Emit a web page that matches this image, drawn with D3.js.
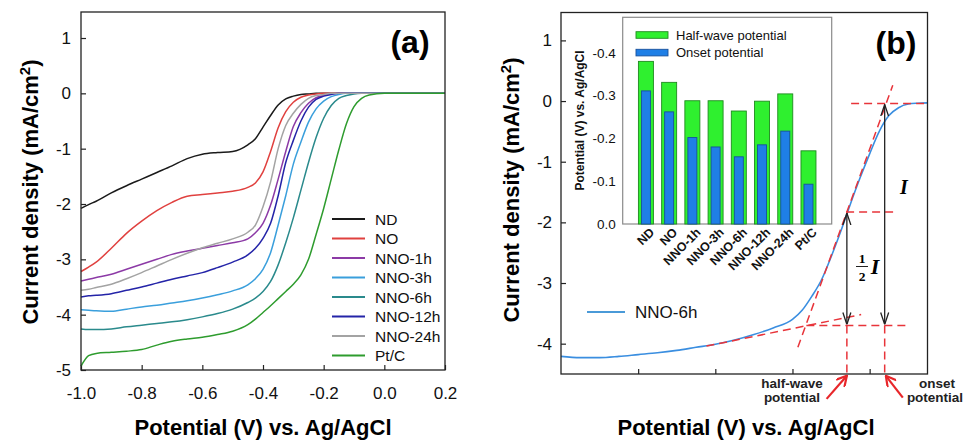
<!DOCTYPE html>
<html>
<head>
<meta charset="utf-8">
<script src="https://cdnjs.cloudflare.com/ajax/libs/d3/7.8.5/d3.min.js"></script>
<style>
  body { margin: 0; background: #fff; }
  svg { font-family: "Liberation Sans", Arial, sans-serif; }
</style>
</head>
<body>
<div class="chart"></div>
<script>
var svgWidth = 969;
var svgHeight = 441;

// Panel (a): potential grid (V vs. Ag/AgCl) and current density of each sample (mA/cm2)
var potential = [-1.0, -0.975, -0.95, -0.9, -0.85, -0.8, -0.75, -0.7, -0.65, -0.6, -0.55, -0.5,
  -0.45, -0.425, -0.4, -0.375, -0.35, -0.325, -0.3, -0.275, -0.25, -0.225, -0.2, -0.175,
  -0.15, -0.125, -0.1, -0.075, -0.05, 0.0, 0.1, 0.2];
var nd = [-2.08, -2.01, -1.95, -1.80, -1.67, -1.55, -1.43, -1.31, -1.18, -1.10, -1.07, -1.05,
  -0.93, -0.82, -0.61, -0.40, -0.21, -0.10, -0.05, -0.02, -0.01, 0, 0, 0,
  0, 0, 0, 0, 0, 0, 0, 0];
var no = [-3.22, -3.14, -3.05, -2.80, -2.53, -2.31, -2.12, -1.97, -1.86, -1.83, -1.80, -1.77,
  -1.70, -1.62, -1.42, -1.05, -0.62, -0.33, -0.16, -0.07, -0.03, -0.01, 0, 0,
  0, 0, 0, 0, 0, 0, 0, 0];
var nno1h = [-3.39, -3.36, -3.33, -3.27, -3.18, -3.09, -3.00, -2.91, -2.85, -2.80, -2.75, -2.70,
  -2.63, -2.52, -2.35, -2.02, -1.55, -1.05, -0.60, -0.35, -0.18, -0.08, -0.04, -0.01,
  0, 0, 0, 0, 0, 0, 0, 0];
var nno3h = [-3.91, -3.92, -3.93, -3.94, -3.90, -3.86, -3.83, -3.79, -3.75, -3.70, -3.64, -3.57,
  -3.46, -3.35, -3.18, -2.88, -2.38, -1.85, -1.28, -0.88, -0.52, -0.28, -0.14, -0.06,
  -0.02, 0, 0, 0, 0, 0, 0, 0];
var nno6h = [-4.26, -4.27, -4.27, -4.26, -4.22, -4.19, -4.16, -4.13, -4.09, -4.04, -3.98, -3.90,
  -3.78, -3.70, -3.58, -3.40, -3.10, -2.70, -2.25, -1.75, -1.25, -0.80, -0.45, -0.22,
  -0.09, -0.04, -0.01, 0, 0, 0, 0, 0];
var nno12h = [-3.68, -3.66, -3.65, -3.62, -3.56, -3.50, -3.43, -3.36, -3.30, -3.24, -3.15, -3.05,
  -2.92, -2.80, -2.62, -2.35, -1.85, -1.25, -0.85, -0.50, -0.25, -0.11, -0.05, -0.02,
  0, 0, 0, 0, 0, 0, 0, 0];
var nno24h = [-3.56, -3.54, -3.51, -3.45, -3.35, -3.24, -3.12, -3.00, -2.89, -2.79, -2.71, -2.63,
  -2.51, -2.38, -2.05, -1.60, -1.00, -0.58, -0.36, -0.20, -0.09, -0.04, -0.02, 0,
  0, 0, 0, 0, 0, 0, 0, 0];
var ptc = [-4.93, -4.74, -4.70, -4.68, -4.66, -4.63, -4.55, -4.48, -4.44, -4.41, -4.36, -4.30,
  -4.18, -4.08, -3.96, -3.84, -3.71, -3.58, -3.45, -3.28, -3.00, -2.55, -2.08, -1.55,
  -1.02, -0.55, -0.24, -0.09, -0.03, 0, 0, 0];

var sampleNames = ["ND", "NO", "NNO-1h", "NNO-3h", "NNO-6h", "NNO-12h", "NNO-24h", "Pt/C"];
var sampleCurves = [nd, no, nno1h, nno3h, nno6h, nno12h, nno24h, ptc];
var sampleColors = ["#1a1a1a", "#e0413f", "#8c3aa6", "#3a9fdc", "#2a8a8c", "#2424a8", "#a3a3a3", "#2e9c2e"];

var xTicksA = [-1.0, -0.8, -0.6, -0.4, -0.2, 0.0, 0.2];
var yTicksA = [-5, -4, -3, -2, -1, 0, 1];

// Panel (b): NNO-6h curve used to explain onset / half-wave potentials
var potentialB = [-1.0, -0.95, -0.9, -0.85, -0.8, -0.75, -0.7, -0.65, -0.6, -0.55, -0.5, -0.45,
  -0.4, -0.375, -0.35, -0.325, -0.3, -0.275, -0.25, -0.225, -0.2, -0.175, -0.15, -0.125,
  -0.1, -0.075, -0.05];
var nno6hB = [-4.21, -4.23, -4.23, -4.21, -4.18, -4.15, -4.11, -4.06, -4.01, -3.94, -3.85, -3.74,
  -3.60, -3.45, -3.22, -2.95, -2.57, -2.15, -1.70, -1.27, -0.87, -0.50, -0.24, -0.11,
  -0.05, -0.035, -0.03];
var xTicksB = [-0.8, -0.6, -0.4, -0.2];
var yTicksB = [-4, -3, -2, -1, 0, 1];

// onset / half-wave construction (data units of panel b)
var limitCurrent = -3.70;
var plateauCurrent = -0.04;
var halfCurrent = -1.83;
var halfWaveE = -0.259;
var onsetE = -0.161;
var tangentSteep = [[-0.386, -4.06], [-0.140, 0.26]];
var tangentBase = [[-0.623, -4.04], [-0.222, -3.52]];

// Inset bars
var insetCats = ["ND", "NO", "NNO-1h", "NNO-3h", "NNO-6h", "NNO-12h", "NNO-24h", "Pt/C"];
var halfWave = [-0.380, -0.331, -0.288, -0.288, -0.264, -0.287, -0.304, -0.171];
var onset = [-0.311, -0.262, -0.202, -0.180, -0.157, -0.185, -0.217, -0.093];
var insetTicks = [0, -0.1, -0.2, -0.3, -0.4];

var svg = d3.select(".chart")
  .append("svg")
  .attr("width", svgWidth)
  .attr("height", svgHeight);

// arrow heads
var defs = svg.append("defs");
defs.append("marker")
  .attr("id", "chevBlack")
  .attr("viewBox", "0 0 12 10")
  .attr("refX", 12).attr("refY", 5)
  .attr("markerWidth", 12).attr("markerHeight", 10)
  .attr("markerUnits", "userSpaceOnUse")
  .attr("orient", "auto-start-reverse")
  .append("path")
  .attr("d", "M0,1 L12,5 L0,9")
  .attr("fill", "none").attr("stroke", "#222").attr("stroke-width", 1.3);
defs.append("marker")
  .attr("id", "chevRed")
  .attr("viewBox", "0 0 12 12")
  .attr("refX", 11).attr("refY", 6)
  .attr("markerWidth", 12).attr("markerHeight", 12)
  .attr("markerUnits", "userSpaceOnUse")
  .attr("orient", "auto")
  .append("path")
  .attr("d", "M1,0.5 L11,6 L1,11.5")
  .attr("fill", "none").attr("stroke", "#e8262a").attr("stroke-width", 2.2);

function styleAxis(g, size) {
  g.attr("font-size", size)
    .attr("font-family", "'Liberation Sans', Arial, sans-serif")
    .attr("fill", "#111");
  g.select(".domain").remove();
  g.selectAll(".tick line").attr("stroke", "#222").attr("stroke-width", 1.2);
  g.selectAll(".tick text").attr("fill", "#111");
}

// ---------------- Panel (a) ----------------
var xA = d3.scaleLinear().domain([-1, 0.2]).range([81, 445]);
var yA = d3.scaleLinear().domain([-5, 1.47]).range([370, 12]);

var panelA = svg.append("g");

panelA.append("g")
  .attr("transform", "translate(0,370)")
  .call(d3.axisBottom(xA).tickValues(xTicksA).tickSizeInner(-5).tickSizeOuter(0)
    .tickPadding(17).tickFormat(d => d.toFixed(1)))
  .call(g => styleAxis(g, 17));

panelA.append("g")
  .attr("transform", "translate(81,0)")
  .call(d3.axisLeft(yA).tickValues(yTicksA).tickSizeInner(-5).tickSizeOuter(0)
    .tickPadding(10).tickFormat(d => String(d)))
  .call(g => styleAxis(g, 17));

var lineA = d3.line()
  .x((d, i) => xA(potential[i]))
  .y(d => yA(d))
  .curve(d3.curveMonotoneX);

panelA.selectAll(".curveA")
  .data(sampleCurves)
  .enter()
  .append("path")
  .attr("class", "curveA")
  .attr("d", lineA)
  .attr("fill", "none")
  .attr("stroke", (d, i) => sampleColors[i])
  .attr("stroke-width", 1.5);

panelA.append("rect")
  .attr("x", 81).attr("y", 12)
  .attr("width", 445 - 81).attr("height", 370 - 12)
  .attr("fill", "none").attr("stroke", "#222").attr("stroke-width", 1.3);

// legend
var legendA = panelA.append("g").attr("transform", "translate(332,219)");
legendA.selectAll("line")
  .data(sampleNames)
  .enter()
  .append("line")
  .attr("x1", 0).attr("x2", 33)
  .attr("y1", (d, i) => i * 19.5).attr("y2", (d, i) => i * 19.5)
  .attr("stroke", (d, i) => sampleColors[i])
  .attr("stroke-width", 1.8);
legendA.selectAll("text")
  .data(sampleNames)
  .enter()
  .append("text")
  .attr("x", 43)
  .attr("y", (d, i) => i * 19.5 + 5.5)
  .attr("font-size", 15.5)
  .attr("fill", "#111")
  .text(d => d);

panelA.append("text")
  .attr("x", 410).attr("y", 53)
  .attr("text-anchor", "middle")
  .attr("font-size", 32).attr("font-weight", "bold")
  .text("(a)");

// axis titles
panelA.append("text")
  .attr("x", 263).attr("y", 435)
  .attr("text-anchor", "middle")
  .attr("font-size", 22).attr("font-weight", "bold")
  .text("Potential (V) vs. Ag/AgCl");

var yTitleA = panelA.append("text")
  .attr("transform", "translate(38,192) rotate(-90)")
  .attr("text-anchor", "middle")
  .attr("font-size", 22).attr("font-weight", "bold");
yTitleA.append("tspan").text("Current density (mA/cm");
yTitleA.append("tspan").attr("font-size", 15).attr("dy", -8).text("2");
yTitleA.append("tspan").attr("dy", 8).text(")");

// ---------------- Panel (b) ----------------
var xB = d3.scaleLinear().domain([-1, -0.05]).range([561, 927.5]);
var yB = d3.scaleLinear().domain([-4.5, 1.46]).range([374, 12.5]);

var panelB = svg.append("g");

panelB.append("g")
  .attr("transform", "translate(0,374)")
  .call(d3.axisBottom(xB).tickValues(xTicksB).tickSizeInner(-5).tickSizeOuter(0).tickFormat(""))
  .call(g => styleAxis(g, 17));

panelB.append("g")
  .attr("transform", "translate(561,0)")
  .call(d3.axisLeft(yB).tickValues(yTicksB).tickSizeInner(-5).tickSizeOuter(0)
    .tickPadding(9).tickFormat(d => String(d)))
  .call(g => styleAxis(g, 17));

var lineB = d3.line()
  .x((d, i) => xB(potentialB[i]))
  .y(d => yB(d))
  .curve(d3.curveMonotoneX);

panelB.append("path")
  .datum(nno6hB)
  .attr("d", lineB)
  .attr("fill", "none")
  .attr("stroke", "#3a8ee0")
  .attr("stroke-width", 1.6);

// dashed construction lines
var dashed = [
  [[-0.248, plateauCurrent], [-0.051, plateauCurrent]],
  tangentSteep,
  [[halfWaveE - 0.002, halfCurrent], [-0.127, halfCurrent]],
  [[-0.364, limitCurrent], [-0.106, limitCurrent]],
  tangentBase,
  [[halfWaveE, limitCurrent], [halfWaveE, -4.5]],
  [[onsetE, limitCurrent], [onsetE, -4.5]]
];
panelB.selectAll(".guide")
  .data(dashed)
  .enter()
  .append("line")
  .attr("class", "guide")
  .attr("x1", d => xB(d[0][0])).attr("y1", d => yB(d[0][1]))
  .attr("x2", d => xB(d[1][0])).attr("y2", d => yB(d[1][1]))
  .attr("stroke", "#e8343a")
  .attr("stroke-width", 1.5)
  .attr("stroke-dasharray", "8,5");

// double arrows for I and 1/2 I
var spans = [[halfWaveE, halfCurrent], [onsetE, plateauCurrent]];
panelB.selectAll(".span")
  .data(spans)
  .enter()
  .append("line")
  .attr("class", "span")
  .attr("x1", d => xB(d[0])).attr("x2", d => xB(d[0]))
  .attr("y1", d => yB(d[1]) + 1).attr("y2", yB(limitCurrent) - 1)
  .attr("stroke", "#222")
  .attr("stroke-width", 1.3)
  .attr("marker-start", "url(#chevBlack)")
  .attr("marker-end", "url(#chevBlack)");

var serif = "'Liberation Serif', 'Times New Roman', serif";
panelB.append("text")
  .attr("x", 904).attr("y", 194)
  .attr("text-anchor", "middle")
  .attr("font-family", serif)
  .attr("font-style", "italic").attr("font-weight", "bold")
  .attr("font-size", 20)
  .text("I");
panelB.append("text")
  .attr("x", 862).attr("y", 263)
  .attr("text-anchor", "middle")
  .attr("font-family", serif)
  .attr("font-weight", "bold").attr("font-size", 13.5)
  .text("1");
panelB.append("line")
  .attr("x1", 856).attr("x2", 868).attr("y1", 266.5).attr("y2", 266.5)
  .attr("stroke", "#222").attr("stroke-width", 1);
panelB.append("text")
  .attr("x", 862).attr("y", 281)
  .attr("text-anchor", "middle")
  .attr("font-family", serif)
  .attr("font-weight", "bold").attr("font-size", 13.5)
  .text("2");
panelB.append("text")
  .attr("x", 875).attr("y", 274)
  .attr("text-anchor", "middle")
  .attr("font-family", serif)
  .attr("font-style", "italic").attr("font-weight", "bold")
  .attr("font-size", 22)
  .text("I");

panelB.append("rect")
  .attr("x", 561).attr("y", 12.5)
  .attr("width", 927.5 - 561).attr("height", 374 - 12.5)
  .attr("fill", "none").attr("stroke", "#222").attr("stroke-width", 1.3);

// red pointers below the axis
var pointers = [[[-0.3115, -4.91], [halfWaveE, -4.53]], [[-0.114, -4.89], [onsetE + 0.003, -4.53]]];
panelB.selectAll(".pointer")
  .data(pointers)
  .enter()
  .append("line")
  .attr("class", "pointer")
  .attr("x1", d => xB(d[0][0])).attr("y1", d => yB(d[0][1]))
  .attr("x2", d => xB(d[1][0])).attr("y2", d => yB(d[1][1]))
  .attr("stroke", "#e8262a")
  .attr("stroke-width", 2.2)
  .attr("marker-end", "url(#chevRed)");

var noteStyle = g => g.attr("text-anchor", "middle").attr("font-size", 13.5)
  .attr("font-weight", "bold").attr("fill", "#222");
panelB.append("text").attr("x", 792).attr("y", 388).call(noteStyle).text("half-wave");
panelB.append("text").attr("x", 792).attr("y", 402).call(noteStyle).text("potential");
panelB.append("text").attr("x", 937).attr("y", 388).call(noteStyle).text("onset");
panelB.append("text").attr("x", 935).attr("y", 402).call(noteStyle).text("potential");

// legend
panelB.append("line")
  .attr("x1", 587).attr("x2", 625).attr("y1", 312).attr("y2", 312)
  .attr("stroke", "#4a9ad8").attr("stroke-width", 1.8);
panelB.append("text")
  .attr("x", 635).attr("y", 318)
  .attr("font-size", 17).attr("fill", "#111")
  .text("NNO-6h");

panelB.append("text")
  .attr("x", 896).attr("y", 54)
  .attr("text-anchor", "middle")
  .attr("font-size", 32).attr("font-weight", "bold")
  .text("(b)");

panelB.append("text")
  .attr("x", 746).attr("y", 435)
  .attr("text-anchor", "middle")
  .attr("font-size", 22).attr("font-weight", "bold")
  .text("Potential (V) vs. Ag/AgCl");

var yTitleB = panelB.append("text")
  .attr("transform", "translate(519,190) rotate(-90)")
  .attr("text-anchor", "middle")
  .attr("font-size", 22).attr("font-weight", "bold");
yTitleB.append("tspan").text("Current density (mA/cm");
yTitleB.append("tspan").attr("font-size", 15).attr("dy", -8).text("2");
yTitleB.append("tspan").attr("dy", 8).text(")");

// ---------------- Inset bar chart ----------------
var insetLeft = 622.7, insetRight = 831.7, insetTop = 17.3, insetBottom = 224;
var xI = d3.scalePoint().domain(insetCats).range([insetLeft, insetRight]).padding(1);
var yI = d3.scaleLinear().domain([0, -0.483]).range([insetBottom, insetTop]);

var inset = svg.append("g");
inset.append("rect")
  .attr("x", insetLeft).attr("y", insetTop)
  .attr("width", insetRight - insetLeft).attr("height", insetBottom - insetTop)
  .attr("fill", "#fff").attr("stroke", "#8a8a8a").attr("stroke-width", 1.2);

inset.selectAll(".halfBar")
  .data(halfWave)
  .enter()
  .append("rect")
  .attr("class", "halfBar")
  .attr("x", (d, i) => xI(insetCats[i]) - 7.5)
  .attr("width", 15)
  .attr("y", d => yI(d))
  .attr("height", d => insetBottom - yI(d))
  .attr("fill", "#2ff02f")
  .attr("stroke", "#1f8a1f").attr("stroke-width", 0.9);

inset.selectAll(".onsetBar")
  .data(onset)
  .enter()
  .append("rect")
  .attr("class", "onsetBar")
  .attr("x", (d, i) => xI(insetCats[i]) - 4.5)
  .attr("width", 9)
  .attr("y", d => yI(d))
  .attr("height", d => insetBottom - yI(d))
  .attr("fill", "#1f7fe6")
  .attr("stroke", "#17509c").attr("stroke-width", 0.9);

inset.append("g")
  .attr("transform", "translate(" + insetLeft + ",0)")
  .call(d3.axisLeft(yI).tickValues(insetTicks).tickSize(0).tickPadding(7)
    .tickFormat(d => d === 0 ? "0.0" : d.toFixed(1)))
  .call(g => styleAxis(g, 13.5));

inset.selectAll(".catLabel")
  .data(insetCats)
  .enter()
  .append("text")
  .attr("class", "catLabel")
  .attr("transform", d => "translate(" + (xI(d) + 6) + "," + (insetBottom + 6) + ") rotate(-45)")
  .attr("text-anchor", "end")
  .attr("dy", "0.35em")
  .attr("font-size", 12.5).attr("font-weight", "bold")
  .attr("fill", "#111")
  .text(d => d);

inset.append("text")
  .attr("transform", "translate(584,120.5) rotate(-90)")
  .attr("text-anchor", "middle")
  .attr("font-size", 12).attr("font-weight", "bold")
  .attr("fill", "#111")
  .text("Potential (V) vs. Ag/AgCl");

// inset legend
var insetLegend = [["Half-wave potential", "#2ff02f", "#1f8a1f"], ["Onset potential", "#1f7fe6", "#17509c"]];
var legI = inset.selectAll(".legI")
  .data(insetLegend)
  .enter()
  .append("g")
  .attr("class", "legI")
  .attr("transform", (d, i) => "translate(636," + (31.7 + i * 17.6) + ")");
legI.append("rect")
  .attr("width", 32).attr("height", 6.6)
  .attr("fill", d => d[1]).attr("stroke", d => d[2]).attr("stroke-width", 0.9);
legI.append("text")
  .attr("x", 40).attr("y", 8)
  .attr("font-size", 13).attr("fill", "#111")
  .text(d => d[0]);
</script>
</body>
</html>
